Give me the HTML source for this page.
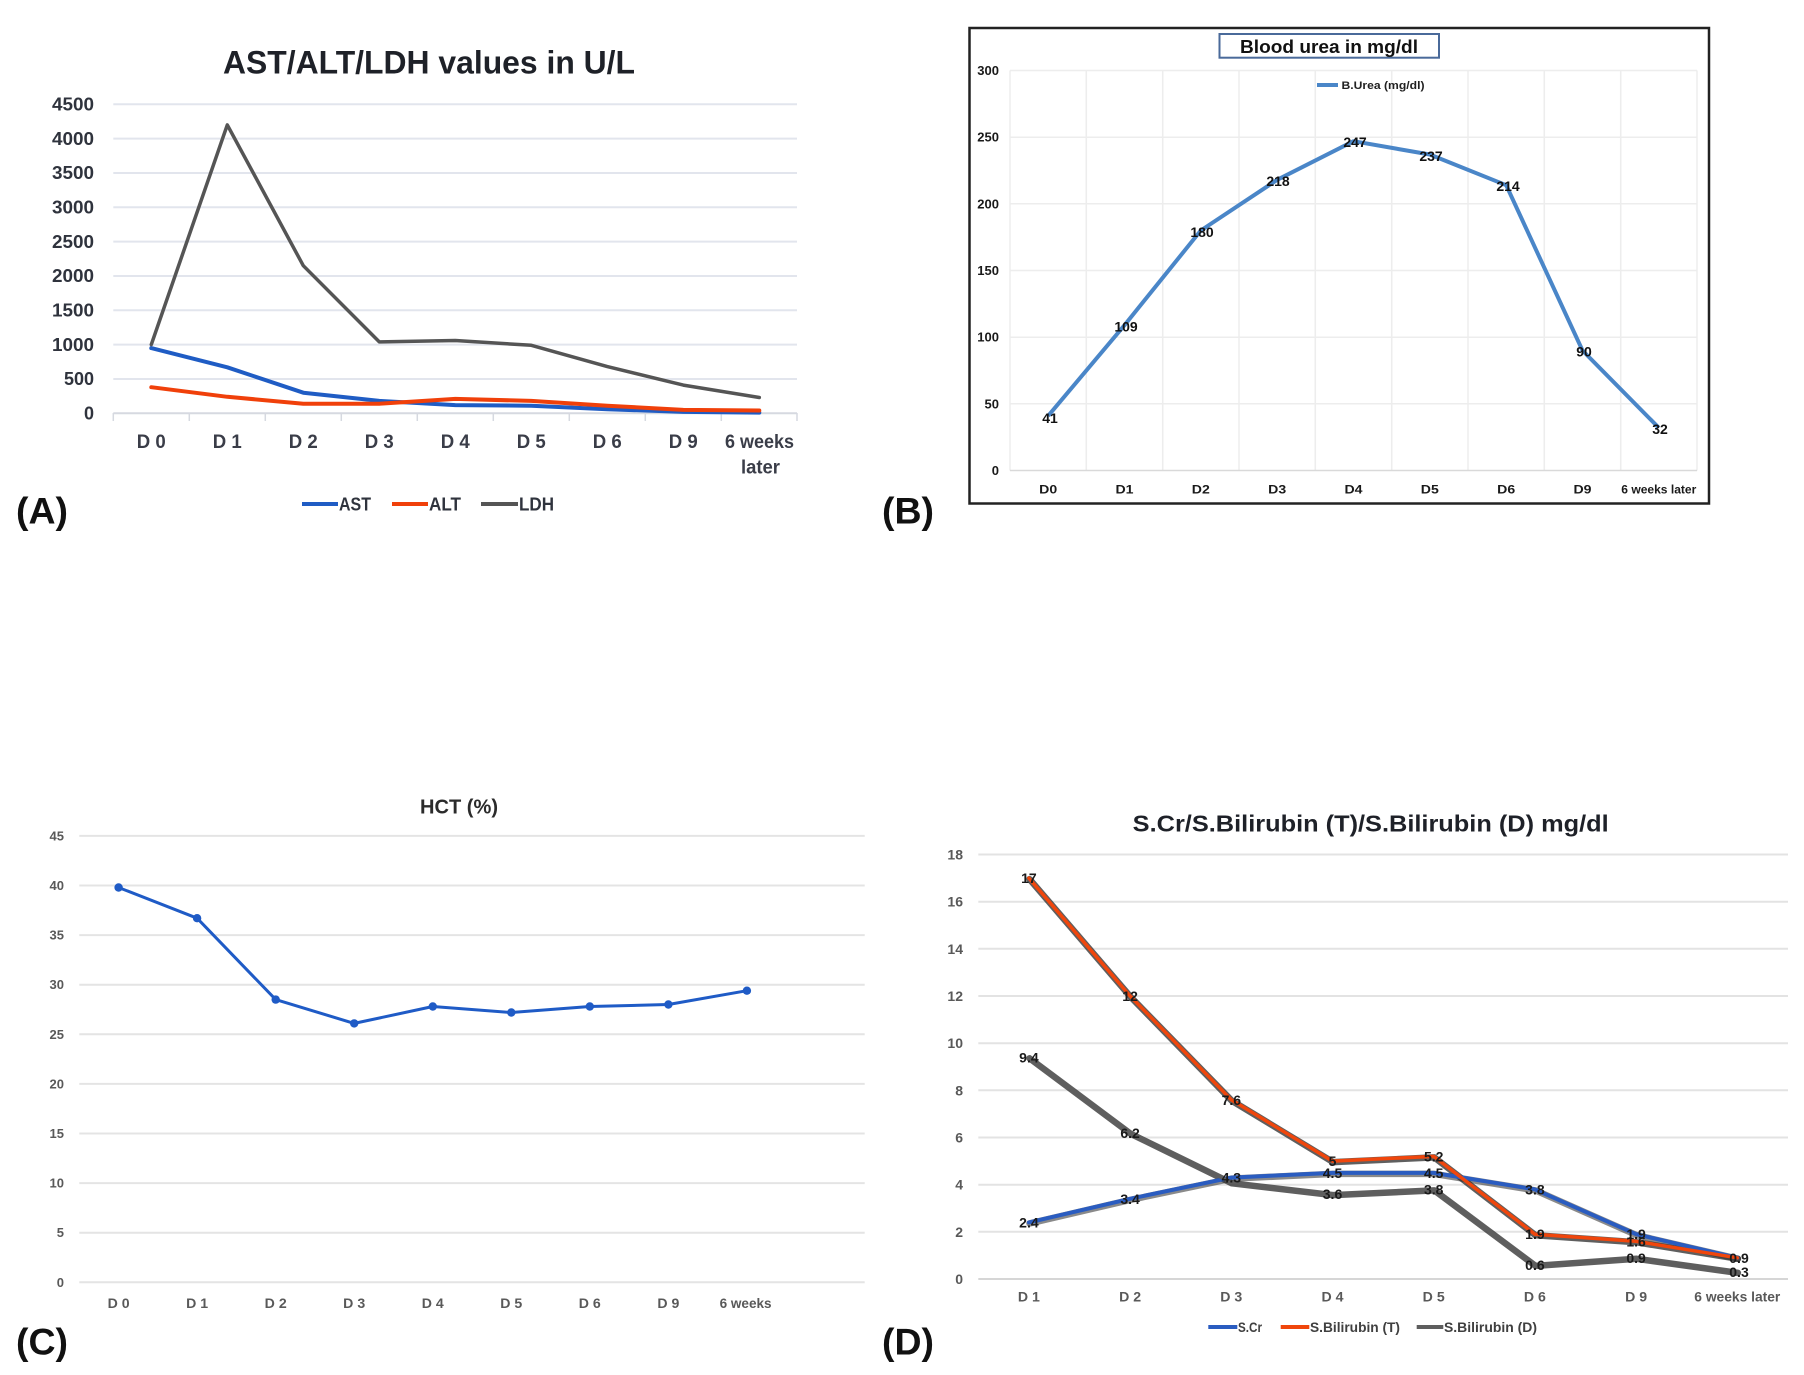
<!DOCTYPE html>
<html>
<head>
<meta charset="utf-8">
<style>
html,body{margin:0;padding:0;background:#fff;}
svg{display:block;}
text{font-family:"Liberation Sans",Arial,sans-serif;}
</style>
</head>
<body>
<svg width="1804" height="1375" viewBox="0 0 1804 1375" xmlns="http://www.w3.org/2000/svg">
<rect x="0" y="0" width="1804" height="1375" fill="#fff"/>

<!-- ================= CHART A ================= -->
<text x="429" y="73.5" font-size="32" font-weight="bold" fill="#1e2128" text-anchor="middle" textLength="412" lengthAdjust="spacingAndGlyphs">AST/ALT/LDH values in U/L</text>
<g stroke="#e2e5ed" stroke-width="2">
<line x1="113.3" y1="104.3" x2="797" y2="104.3"/>
<line x1="113.3" y1="138.6" x2="797" y2="138.6"/>
<line x1="113.3" y1="173" x2="797" y2="173"/>
<line x1="113.3" y1="207.3" x2="797" y2="207.3"/>
<line x1="113.3" y1="241.6" x2="797" y2="241.6"/>
<line x1="113.3" y1="276" x2="797" y2="276"/>
<line x1="113.3" y1="310.3" x2="797" y2="310.3"/>
<line x1="113.3" y1="344.6" x2="797" y2="344.6"/>
<line x1="113.3" y1="379" x2="797" y2="379"/>
</g>
<line x1="113.3" y1="413.3" x2="797" y2="413.3" stroke="#d6d9e0" stroke-width="2"/>
<g stroke="#d6d9e0" stroke-width="1.5">
<line x1="113.3" y1="413" x2="113.3" y2="421"/>
<line x1="189.3" y1="413" x2="189.3" y2="421"/>
<line x1="265.3" y1="413" x2="265.3" y2="421"/>
<line x1="341.3" y1="413" x2="341.3" y2="421"/>
<line x1="417.3" y1="413" x2="417.3" y2="421"/>
<line x1="493.3" y1="413" x2="493.3" y2="421"/>
<line x1="569.3" y1="413" x2="569.3" y2="421"/>
<line x1="645.3" y1="413" x2="645.3" y2="421"/>
<line x1="721.3" y1="413" x2="721.3" y2="421"/>
<line x1="797" y1="413" x2="797" y2="421"/>
</g>
<g font-size="18" font-weight="bold" fill="#2f333d" text-anchor="end">
<text x="94" y="110.5" textLength="42" lengthAdjust="spacingAndGlyphs">4500</text>
<text x="94" y="144.8" textLength="42" lengthAdjust="spacingAndGlyphs">4000</text>
<text x="94" y="179.2" textLength="42" lengthAdjust="spacingAndGlyphs">3500</text>
<text x="94" y="213.5" textLength="42" lengthAdjust="spacingAndGlyphs">3000</text>
<text x="94" y="247.8" textLength="42" lengthAdjust="spacingAndGlyphs">2500</text>
<text x="94" y="282.2" textLength="42" lengthAdjust="spacingAndGlyphs">2000</text>
<text x="94" y="316.5" textLength="42" lengthAdjust="spacingAndGlyphs">1500</text>
<text x="94" y="350.8" textLength="42" lengthAdjust="spacingAndGlyphs">1000</text>
<text x="94" y="385.2">500</text>
<text x="94" y="419.5">0</text>
</g>
<g font-size="19" font-weight="bold" fill="#3a3d48" text-anchor="middle">
<text x="151.3" y="448" textLength="29" lengthAdjust="spacingAndGlyphs">D 0</text>
<text x="227.3" y="448" textLength="29" lengthAdjust="spacingAndGlyphs">D 1</text>
<text x="303.3" y="448" textLength="29" lengthAdjust="spacingAndGlyphs">D 2</text>
<text x="379.3" y="448" textLength="29" lengthAdjust="spacingAndGlyphs">D 3</text>
<text x="455.3" y="448" textLength="29" lengthAdjust="spacingAndGlyphs">D 4</text>
<text x="531.3" y="448" textLength="29" lengthAdjust="spacingAndGlyphs">D 5</text>
<text x="607.3" y="448" textLength="29" lengthAdjust="spacingAndGlyphs">D 6</text>
<text x="683.3" y="448" textLength="29" lengthAdjust="spacingAndGlyphs">D 9</text>
<text x="759.5" y="448" textLength="69" lengthAdjust="spacingAndGlyphs">6 weeks</text>
<text x="760.5" y="473.5" textLength="39" lengthAdjust="spacingAndGlyphs">later</text>
</g>
<g fill="none" stroke-linejoin="round" stroke-linecap="round">
<polyline stroke="#1f5cc4" stroke-width="4" points="151.3,348.1 227.3,367.3 303.3,392.7 379.3,400.9 455.3,405.1 531.3,405.7 607.3,409.2 683.3,411.9 759.3,412.6"/>
<polyline stroke="#f0400a" stroke-width="4" points="151.3,387.2 227.3,396.8 303.3,403.7 379.3,403.7 455.3,398.9 531.3,400.9 607.3,405.7 683.3,409.9 759.3,410.5"/>
<polyline stroke="#555555" stroke-width="3.5" points="151.3,344.6 227.3,124.9 303.3,265.7 379.3,341.9 455.3,340.5 531.3,345.3 607.3,366.6 683.3,385.1 759.3,397.5"/>
</g>
<g stroke-width="4">
<line x1="302" y1="504" x2="338" y2="504" stroke="#1f5cc4"/>
<line x1="392" y1="504" x2="428" y2="504" stroke="#f0400a"/>
<line x1="481" y1="504" x2="518" y2="504" stroke="#555555"/>
</g>
<g font-size="18" font-weight="bold" fill="#2f333d">
<text x="339" y="510.5" textLength="32" lengthAdjust="spacingAndGlyphs">AST</text>
<text x="429" y="510.5" textLength="32" lengthAdjust="spacingAndGlyphs">ALT</text>
<text x="519" y="510.5" textLength="35" lengthAdjust="spacingAndGlyphs">LDH</text>
</g>
<text x="16" y="523.5" font-size="37" font-weight="bold" fill="#111" textLength="52" lengthAdjust="spacingAndGlyphs">(A)</text>

<!-- ================= CHART B ================= -->
<rect x="969.5" y="28" width="739.5" height="475.5" fill="#fff" stroke="#222" stroke-width="2.5"/>
<g stroke="#ededed" stroke-width="1.5">
<line x1="1010" y1="70.5" x2="1697" y2="70.5"/>
<line x1="1010" y1="137.2" x2="1697" y2="137.2"/>
<line x1="1010" y1="203.8" x2="1697" y2="203.8"/>
<line x1="1010" y1="270.5" x2="1697" y2="270.5"/>
<line x1="1010" y1="337.2" x2="1697" y2="337.2"/>
<line x1="1010" y1="403.8" x2="1697" y2="403.8"/>
<line x1="1010" y1="70.5" x2="1010" y2="470.5"/>
<line x1="1086.3" y1="70.5" x2="1086.3" y2="470.5"/>
<line x1="1162.7" y1="70.5" x2="1162.7" y2="470.5"/>
<line x1="1239" y1="70.5" x2="1239" y2="470.5"/>
<line x1="1315.3" y1="70.5" x2="1315.3" y2="470.5"/>
<line x1="1391.7" y1="70.5" x2="1391.7" y2="470.5"/>
<line x1="1468" y1="70.5" x2="1468" y2="470.5"/>
<line x1="1544.3" y1="70.5" x2="1544.3" y2="470.5"/>
<line x1="1620.7" y1="70.5" x2="1620.7" y2="470.5"/>
<line x1="1697" y1="70.5" x2="1697" y2="470.5"/>
</g>
<line x1="1010" y1="470.5" x2="1697" y2="470.5" stroke="#d9d9d9" stroke-width="1.5"/>
<rect x="1219.5" y="34" width="219.5" height="23.7" fill="#fff" stroke="#4a6a9a" stroke-width="2"/>
<text x="1329" y="53" font-size="18" font-weight="bold" fill="#111" text-anchor="middle" textLength="178" lengthAdjust="spacingAndGlyphs">Blood urea in mg/dl</text>
<line x1="1317" y1="85" x2="1338" y2="85" stroke="#4a86c8" stroke-width="4"/>
<text x="1341.5" y="89" font-size="11" font-weight="bold" fill="#222" textLength="83" lengthAdjust="spacingAndGlyphs">B.Urea (mg/dl)</text>
<g font-size="13" font-weight="bold" fill="#1a1a1a" text-anchor="end">
<text x="999" y="75">300</text>
<text x="999" y="141.7">250</text>
<text x="999" y="208.3">200</text>
<text x="999" y="275">150</text>
<text x="999" y="341.7">100</text>
<text x="999" y="408.3">50</text>
<text x="999" y="475">0</text>
</g>
<g font-size="12" font-weight="bold" fill="#1a1a1a" text-anchor="middle">
<text x="1048.2" y="493.5" textLength="18" lengthAdjust="spacingAndGlyphs">D0</text>
<text x="1124.5" y="493.5" textLength="18" lengthAdjust="spacingAndGlyphs">D1</text>
<text x="1200.8" y="493.5" textLength="18" lengthAdjust="spacingAndGlyphs">D2</text>
<text x="1277.2" y="493.5" textLength="18" lengthAdjust="spacingAndGlyphs">D3</text>
<text x="1353.5" y="493.5" textLength="18" lengthAdjust="spacingAndGlyphs">D4</text>
<text x="1429.8" y="493.5" textLength="18" lengthAdjust="spacingAndGlyphs">D5</text>
<text x="1506.2" y="493.5" textLength="18" lengthAdjust="spacingAndGlyphs">D6</text>
<text x="1582.5" y="493.5" textLength="18" lengthAdjust="spacingAndGlyphs">D9</text>
<text x="1658.8" y="493.5" textLength="75" lengthAdjust="spacingAndGlyphs">6 weeks later</text>
</g>
<polyline fill="none" stroke="#4a86c8" stroke-width="4" stroke-linejoin="round" points="1048.2,415.8 1124.5,325.2 1200.8,230.5 1277.2,179.8 1353.5,141.2 1429.8,154.5 1506.2,185.2 1582.5,350.5 1658.8,427.8"/>
<g font-size="14" font-weight="bold" fill="#111" text-anchor="middle">
<text x="1050" y="423">41</text>
<text x="1126" y="331.5">109</text>
<text x="1202" y="237">180</text>
<text x="1278" y="186">218</text>
<text x="1355" y="147">247</text>
<text x="1431" y="161">237</text>
<text x="1508" y="191">214</text>
<text x="1584" y="356.5">90</text>
<text x="1660" y="434">32</text>
</g>
<text x="882" y="523.5" font-size="37" font-weight="bold" fill="#111" textLength="52" lengthAdjust="spacingAndGlyphs">(B)</text>

<!-- ================= CHART C ================= -->
<text x="459" y="813.5" font-size="20" font-weight="bold" fill="#2b2b2b" text-anchor="middle" textLength="78" lengthAdjust="spacingAndGlyphs">HCT (%)</text>
<g stroke="#e4e4e4" stroke-width="2">
<line x1="79.3" y1="835.9" x2="864.7" y2="835.9"/>
<line x1="79.3" y1="885.5" x2="864.7" y2="885.5"/>
<line x1="79.3" y1="935.1" x2="864.7" y2="935.1"/>
<line x1="79.3" y1="984.7" x2="864.7" y2="984.7"/>
<line x1="79.3" y1="1034.3" x2="864.7" y2="1034.3"/>
<line x1="79.3" y1="1083.9" x2="864.7" y2="1083.9"/>
<line x1="79.3" y1="1133.5" x2="864.7" y2="1133.5"/>
<line x1="79.3" y1="1183.1" x2="864.7" y2="1183.1"/>
<line x1="79.3" y1="1232.7" x2="864.7" y2="1232.7"/>
<line x1="79.3" y1="1282.3" x2="864.7" y2="1282.3"/>
</g>
<g font-size="13" font-weight="bold" fill="#595959" text-anchor="end">
<text x="64" y="840.5">45</text>
<text x="64" y="890">40</text>
<text x="64" y="939.6">35</text>
<text x="64" y="989.2">30</text>
<text x="64" y="1038.8">25</text>
<text x="64" y="1088.4">20</text>
<text x="64" y="1138">15</text>
<text x="64" y="1187.6">10</text>
<text x="64" y="1237.2">5</text>
<text x="64" y="1286.8">0</text>
</g>
<g font-size="14" font-weight="bold" fill="#595959" text-anchor="middle">
<text x="118.6" y="1308" textLength="22" lengthAdjust="spacingAndGlyphs">D 0</text>
<text x="197.1" y="1308" textLength="22" lengthAdjust="spacingAndGlyphs">D 1</text>
<text x="275.7" y="1308" textLength="22" lengthAdjust="spacingAndGlyphs">D 2</text>
<text x="354.2" y="1308" textLength="22" lengthAdjust="spacingAndGlyphs">D 3</text>
<text x="432.8" y="1308" textLength="22" lengthAdjust="spacingAndGlyphs">D 4</text>
<text x="511.3" y="1308" textLength="22" lengthAdjust="spacingAndGlyphs">D 5</text>
<text x="589.8" y="1308" textLength="22" lengthAdjust="spacingAndGlyphs">D 6</text>
<text x="668.4" y="1308" textLength="22" lengthAdjust="spacingAndGlyphs">D 9</text>
<text x="745.6" y="1308" textLength="52" lengthAdjust="spacingAndGlyphs">6 weeks</text>
</g>
<polyline fill="none" stroke="#1f5bc6" stroke-width="3" stroke-linejoin="round" points="118.6,887.5 197.1,918.2 275.7,999.6 354.2,1023.4 432.8,1006.5 511.3,1012.5 589.8,1006.5 668.4,1004.5 746.9,990.7"/>
<g fill="#1f5bc6">
<circle cx="118.6" cy="887.5" r="4.2"/>
<circle cx="197.1" cy="918.2" r="4.2"/>
<circle cx="275.7" cy="999.6" r="4.2"/>
<circle cx="354.2" cy="1023.4" r="4.2"/>
<circle cx="432.8" cy="1006.5" r="4.2"/>
<circle cx="511.3" cy="1012.5" r="4.2"/>
<circle cx="589.8" cy="1006.5" r="4.2"/>
<circle cx="668.4" cy="1004.5" r="4.2"/>
<circle cx="746.9" cy="990.7" r="4.2"/>
</g>
<text x="16" y="1354.6" font-size="37" font-weight="bold" fill="#111" textLength="52" lengthAdjust="spacingAndGlyphs">(C)</text>

<!-- ================= CHART D ================= -->
<text x="1370.7" y="831.5" font-size="23" font-weight="bold" fill="#1e2128" text-anchor="middle" textLength="476" lengthAdjust="spacingAndGlyphs">S.Cr/S.Bilirubin (T)/S.Bilirubin (D) mg/dl</text>
<g stroke="#e3e3e3" stroke-width="2">
<line x1="978.3" y1="854.5" x2="1788" y2="854.5"/>
<line x1="978.3" y1="901.7" x2="1788" y2="901.7"/>
<line x1="978.3" y1="948.8" x2="1788" y2="948.8"/>
<line x1="978.3" y1="996" x2="1788" y2="996"/>
<line x1="978.3" y1="1043.2" x2="1788" y2="1043.2"/>
<line x1="978.3" y1="1090.3" x2="1788" y2="1090.3"/>
<line x1="978.3" y1="1137.5" x2="1788" y2="1137.5"/>
<line x1="978.3" y1="1184.7" x2="1788" y2="1184.7"/>
<line x1="978.3" y1="1231.8" x2="1788" y2="1231.8"/>
</g>
<line x1="978.3" y1="1279" x2="1788" y2="1279" stroke="#d6d6d6" stroke-width="2"/>
<g font-size="14" font-weight="bold" fill="#595959" text-anchor="end">
<text x="963" y="859.5">18</text>
<text x="963" y="906.7">16</text>
<text x="963" y="953.8">14</text>
<text x="963" y="1001">12</text>
<text x="963" y="1048.2">10</text>
<text x="963" y="1095.3">8</text>
<text x="963" y="1142.5">6</text>
<text x="963" y="1189.7">4</text>
<text x="963" y="1236.8">2</text>
<text x="963" y="1284">0</text>
</g>
<g font-size="14" font-weight="bold" fill="#595959" text-anchor="middle">
<text x="1028.9" y="1301.7" textLength="22" lengthAdjust="spacingAndGlyphs">D 1</text>
<text x="1130.1" y="1301.7" textLength="22" lengthAdjust="spacingAndGlyphs">D 2</text>
<text x="1231.3" y="1301.7" textLength="22" lengthAdjust="spacingAndGlyphs">D 3</text>
<text x="1332.5" y="1301.7" textLength="22" lengthAdjust="spacingAndGlyphs">D 4</text>
<text x="1433.7" y="1301.7" textLength="22" lengthAdjust="spacingAndGlyphs">D 5</text>
<text x="1534.9" y="1301.7" textLength="22" lengthAdjust="spacingAndGlyphs">D 6</text>
<text x="1636.1" y="1301.7" textLength="22" lengthAdjust="spacingAndGlyphs">D 9</text>
<text x="1737.3" y="1301.7" textLength="86" lengthAdjust="spacingAndGlyphs">6 weeks later</text>
</g>
<g fill="none" stroke-linejoin="round" stroke-linecap="round">
<!-- shadows -->
<polyline stroke="#2a2a2a" stroke-opacity="0.55" stroke-width="6.5" points="1028.9,1222.4 1130.1,1198.8 1231.3,1177.6 1332.5,1172.9 1433.7,1172.9 1534.9,1189.4 1636.1,1234.2 1737.3,1257.8" transform="translate(0.6,1)"/>
<polyline stroke="#2a2a2a" stroke-opacity="0.75" stroke-width="6.5" points="1028.9,878.1 1130.1,996 1231.3,1099.8 1332.5,1161.1 1433.7,1156.4 1534.9,1234.2 1636.1,1241.3 1737.3,1257.8" transform="translate(0.6,1)"/>
<polyline stroke="#2a2a2a" stroke-opacity="0.75" stroke-width="6.5" points="1028.9,1057.3 1130.1,1132.8 1231.3,1182.3 1332.5,1194.1 1433.7,1189.4 1534.9,1264.9 1636.1,1257.8 1737.3,1271.9" transform="translate(0.6,1)"/>
<!-- series -->
<polyline stroke="#2a5cc0" stroke-width="4" points="1028.9,1222.4 1130.1,1198.8 1231.3,1177.6 1332.5,1172.9 1433.7,1172.9 1534.9,1189.4 1636.1,1234.2 1737.3,1257.8"/>
<polyline stroke="#f0460c" stroke-width="3.5" points="1028.9,878.1 1130.1,996 1231.3,1099.8 1332.5,1161.1 1433.7,1156.4 1534.9,1234.2 1636.1,1241.3 1737.3,1257.8"/>
<polyline stroke="#5e5e5e" stroke-width="3.5" points="1028.9,1057.3 1130.1,1132.8 1231.3,1182.3 1332.5,1194.1 1433.7,1189.4 1534.9,1264.9 1636.1,1257.8 1737.3,1271.9"/>
</g>
<g font-size="14" font-weight="bold" fill="#1a1a1a" text-anchor="middle">
<text x="1028.9" y="1227.4">2.4</text>
<text x="1130.1" y="1203.8">3.4</text>
<text x="1231.3" y="1182.6">4.3</text>
<text x="1332.5" y="1177.9">4.5</text>
<text x="1433.7" y="1177.9">4.5</text>
<text x="1534.9" y="1194.4">3.8</text>
<text x="1636.1" y="1239.2">1.9</text>
<text x="1028.9" y="883.1">17</text>
<text x="1130.1" y="1001">12</text>
<text x="1231.3" y="1104.8">7.6</text>
<text x="1332.5" y="1166.1">5</text>
<text x="1433.7" y="1161.4">5.2</text>
<text x="1534.9" y="1239.2">1.9</text>
<text x="1636.1" y="1246.3">1.6</text>
<text x="1739" y="1262.8">0.9</text>
<text x="1028.9" y="1062.3">9.4</text>
<text x="1130.1" y="1137.8">6.2</text>
<text x="1332.5" y="1199.1">3.6</text>
<text x="1433.7" y="1194.4">3.8</text>
<text x="1534.9" y="1269.9">0.6</text>
<text x="1636.1" y="1262.8">0.9</text>
<text x="1739" y="1276.9">0.3</text>
</g>
<g stroke-width="4">
<line x1="1208.3" y1="1327" x2="1237.3" y2="1327" stroke="#2a5cc0"/>
<line x1="1280.7" y1="1327" x2="1309.3" y2="1327" stroke="#f0460c"/>
<line x1="1416.7" y1="1327" x2="1443.3" y2="1327" stroke="#5e5e5e"/>
</g>
<g font-size="14" font-weight="bold" fill="#404040">
<text x="1238" y="1332" textLength="24" lengthAdjust="spacingAndGlyphs">S.Cr</text>
<text x="1310" y="1332" textLength="90" lengthAdjust="spacingAndGlyphs">S.Bilirubin (T)</text>
<text x="1444" y="1332" textLength="93" lengthAdjust="spacingAndGlyphs">S.Bilirubin (D)</text>
</g>
<text x="882" y="1354.6" font-size="37" font-weight="bold" fill="#111" textLength="52" lengthAdjust="spacingAndGlyphs">(D)</text>
</svg>
</body>
</html>
